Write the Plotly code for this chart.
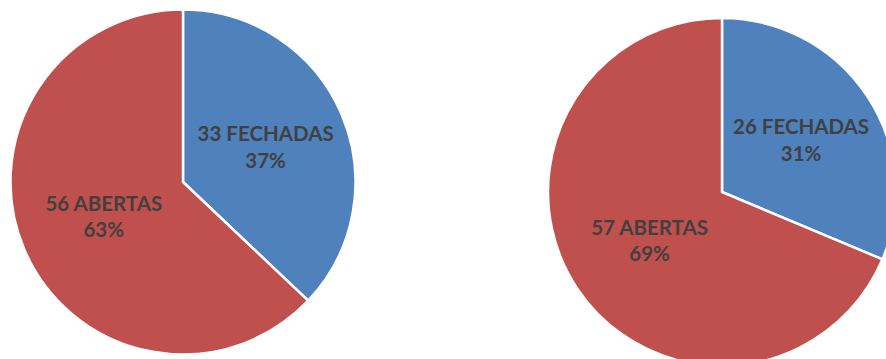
import plotly.graph_objects as go

labels = ["FECHADAS", "ABERTAS"]
left_values = [33, 56]
right_values = [26, 57]
colors = ["#4F81BD", "#C0504D"]

W, H = 900, 372

def dom(x0, x1, ytop, ybot):
    return dict(x=[x0 / W, x1 / W], y=[1 - ybot / H, 1 - ytop / H])

def make_pie(values, domain):
    return go.Pie(
        labels=labels,
        values=values,
        sort=False,
        direction="clockwise",
        rotation=0,
        marker=dict(colors=colors, line=dict(color="white", width=2.5)),
        texttemplate="%{value} %{label}<br>%{percent:.0%}",
        textposition="inside",
        insidetextorientation="horizontal",
        textfont=dict(family="Lato", size=20.5, color="#404040", weight="bold"),
        hoverinfo="none",
        showlegend=False,
        domain=domain,
    )

fig = go.Figure()
fig.add_trace(make_pie(left_values, dom(10.5, 355.5, 9.5, 354.5)))
fig.add_trace(make_pie(right_values, dom(548, 896, 18, 366)))

fig.update_layout(
    width=W,
    height=H,
    margin=dict(l=0, r=0, t=0, b=0),
    paper_bgcolor="white",
    plot_bgcolor="white",
)

fig.write_html(
    "out.html",
    post_script="document.documentElement.style.overflow='hidden';document.body.style.overflow='hidden';",
)
